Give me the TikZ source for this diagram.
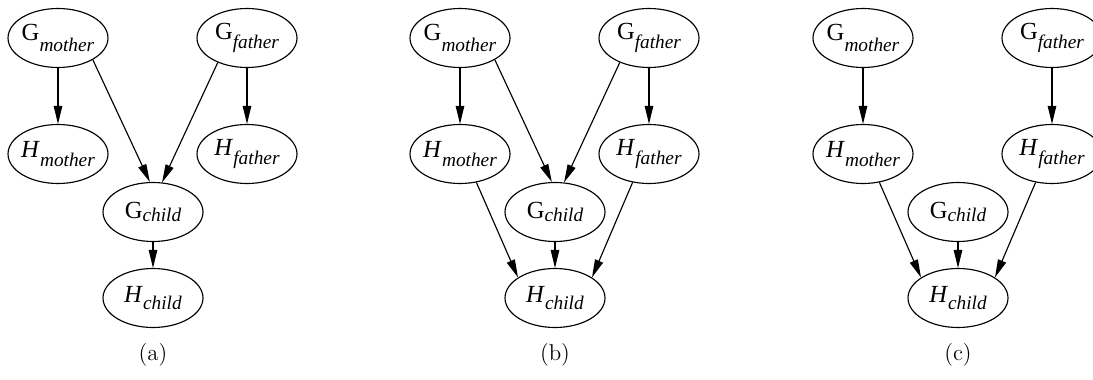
\documentclass[tikz,border=0pt]{standalone}
\usepackage{fontspec}
\setmainfont{Liberation Serif}
\newfontfamily\lmr{Latin Modern Roman}
\usetikzlibrary{shapes.geometric,arrows.meta}
\newcommand\nlab[3]{\makebox[1cm]{\rmfamily\fontsize{14}{16}\selectfont #1\raisebox{-#3}{\fontsize{11}{13}\selectfont\itshape #2}}}
\begin{document}
\begin{tikzpicture}[x=0.02cm,y=-0.02cm,
  var/.style={ellipse,draw,line width=0.65pt,inner sep=0pt,minimum width=2cm,minimum height=1.18cm},
  edge/.style={line width=0.65pt,-{Triangle[length=0.36cm,width=0.17cm]}},
  subcap/.style={font=\lmr\fontsize{13}{15}\selectfont}]
\useasboundingbox (0,0) rectangle (1093,379);
\clip (0,0) rectangle (1093,379);
% (a)
\node[var] (agm) at (58,38) {\nlab{G}{mother}{6pt}};
\node[var] (agf) at (247,38) {\nlab{G}{father}{5pt}};
\node[var] (ahm) at (58,154) {\nlab{\textit{H}}{mother}{5pt}};
\node[var] (ahf) at (247,154) {\nlab{\textit{H}}{father}{5pt}};
\node[var] (agc) at (153,212) {\nlab{G}{child}{1.5pt}};
\node[var] (ahc) at (153,298) {\nlab{\textit{H}}{child}{4pt}};
\node[subcap] (acap) at (153,355) {(a)};
\draw[edge] (agm) -- (ahm);
\draw[edge] (agf) -- (ahf);
\draw[edge] (agm.-32) -- (agc.96);
\draw[edge] (agf.-140) -- (agc.73);
\draw[edge] (agc) -- (ahc);
% (b)
\begin{scope}[shift={(402,0)}]
\node[var] (bgm) at (58,38) {\nlab{G}{mother}{6pt}};
\node[var] (bgf) at (247,38) {\nlab{G}{father}{5pt}};
\node[var] (bhm) at (58,154) {\nlab{\textit{H}}{mother}{5pt}};
\node[var] (bhf) at (247,154) {\nlab{\textit{H}}{father}{5pt}};
\node[var] (bgc) at (153,212) {\nlab{G}{child}{1.5pt}};
\node[var] (bhc) at (153,298) {\nlab{\textit{H}}{child}{4pt}};
\node[subcap] (bcap) at (153,355) {(b)};
\draw[edge] (bgm) -- (bhm);
\draw[edge] (bgf) -- (bhf);
\draw[edge] (bgm.-32) -- (bgc.96);
\draw[edge] (bgf.-140) -- (bgc.73);
\draw[edge] (bhm.-60) -- (bhc.151);
\draw[edge] (bgc) -- (bhc);
\draw[edge] (bhf.-120) -- (bhc.29);
\end{scope}
% (c)
\begin{scope}[shift={(805,0)}]
\node[var] (cgm) at (58,38) {\nlab{G}{mother}{6pt}};
\node[var] (cgf) at (247,38) {\nlab{G}{father}{5pt}};
\node[var] (chm) at (58,154) {\nlab{\textit{H}}{mother}{5pt}};
\node[var] (chf) at (247,154) {\nlab{\textit{H}}{father}{5pt}};
\node[var] (cgc) at (153,212) {\nlab{G}{child}{1.5pt}};
\node[var] (chc) at (153,298) {\nlab{\textit{H}}{child}{4pt}};
\node[subcap] (ccap) at (153,355) {(c)};
\draw[edge] (cgm) -- (chm);
\draw[edge] (cgf) -- (chf);
\draw[edge] (chm.-60) -- (chc.151);
\draw[edge] (cgc) -- (chc);
\draw[edge] (chf.-120) -- (chc.29);
\end{scope}
\end{tikzpicture}
\end{document}
